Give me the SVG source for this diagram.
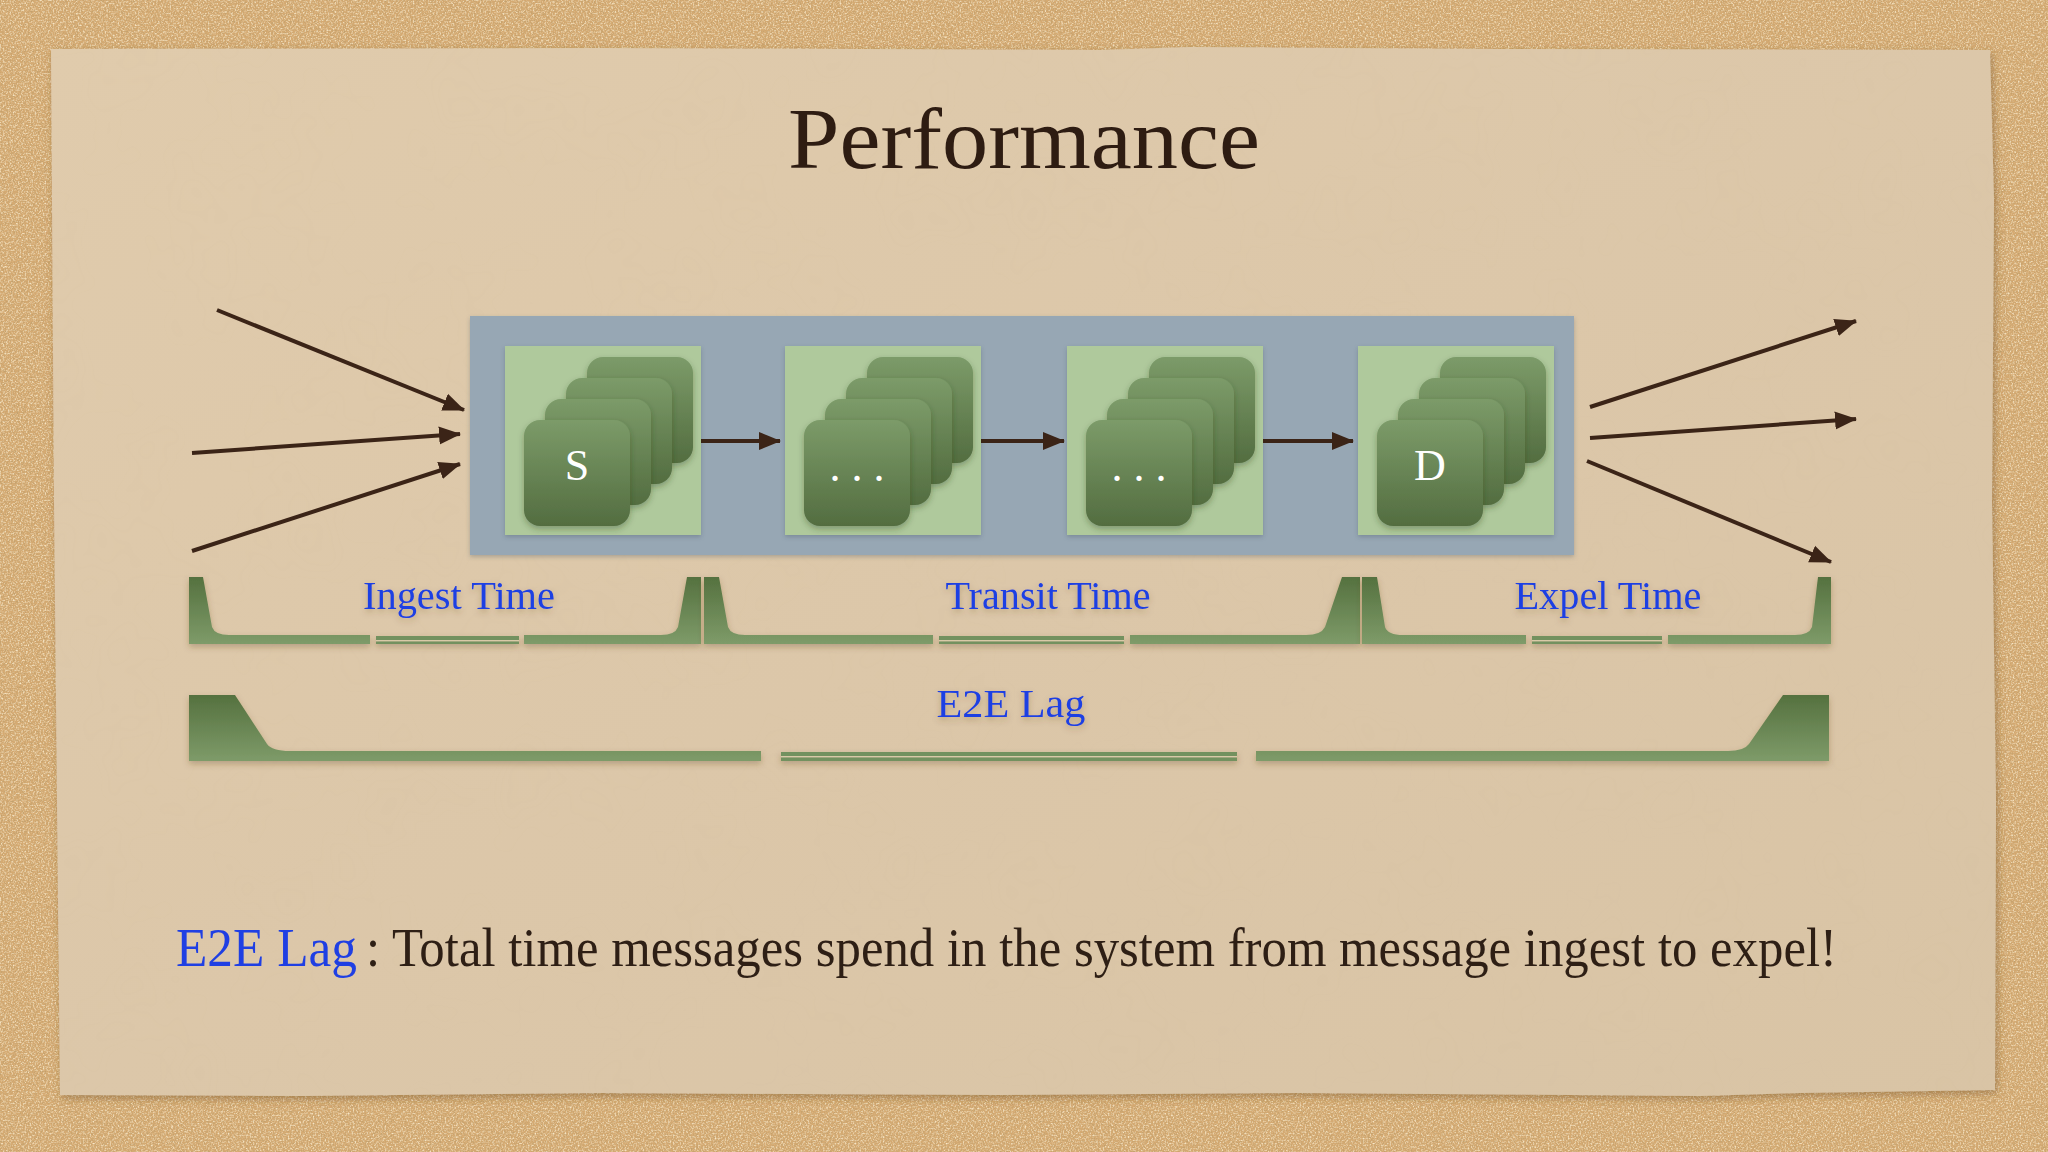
<svg xmlns="http://www.w3.org/2000/svg" width="2048" height="1152" viewBox="0 0 2048 1152">
<style>
.title{font-family:"Liberation Serif","DejaVu Serif",serif;font-size:86px;fill:#2e1c12}
.lbl{font-family:"Liberation Serif","DejaVu Serif",serif;font-size:40px;fill:#1f3fe3}
.body{font-family:"Liberation Serif","DejaVu Serif",serif;font-size:54px;fill:#2e1f15}
.blue{fill:#1f3fe3}
.card{fill:url(#cardG);filter:url(#cardSh)}
.tile{fill:#afc99c;filter:url(#tileSh)}
.glyph{font-family:"Liberation Serif","DejaVu Serif",serif;font-size:44px;fill:#ffffff;text-anchor:middle}
.br{fill:url(#brG)}
.brT{fill:#73915f}
.conn{stroke:#3b2417;stroke-width:4;fill:none;marker-end:url(#ah)}
</style>
<defs>
<linearGradient id="cardG" x1="0" y1="0" x2="0" y2="1">
<stop offset="0" stop-color="#7c9b69"/>
<stop offset="1" stop-color="#536d40"/>
</linearGradient>
<linearGradient id="brG" x1="0" y1="0" x2="0" y2="1">
<stop offset="0" stop-color="#55713f"/>
<stop offset="1" stop-color="#7e9b69"/>
</linearGradient>
<linearGradient id="paperG" x1="0" y1="0" x2="1" y2="1">
<stop offset="0" stop-color="#e0cbac"/>
<stop offset="0.5" stop-color="#dcc7a9"/>
<stop offset="1" stop-color="#d9c4a5"/>
</linearGradient>
<filter id="cardSh" x="-20%" y="-20%" width="140%" height="150%">
<feDropShadow dx="0" dy="3" stdDeviation="3" flood-color="#2b3a20" flood-opacity="0.35"/>
</filter>
<filter id="tileSh" x="-10%" y="-10%" width="120%" height="125%">
<feDropShadow dx="0" dy="2" stdDeviation="2" flood-color="#3a4a5a" flood-opacity="0.3"/>
</filter>
<filter id="brSh" x="-5%" y="-20%" width="110%" height="150%">
<feDropShadow dx="0" dy="3" stdDeviation="3" flood-color="#5a4020" flood-opacity="0.3"/>
</filter>
<filter id="paperSh" x="-5%" y="-5%" width="110%" height="110%">
<feDropShadow dx="2" dy="3" stdDeviation="4" flood-color="#6a4a20" flood-opacity="0.45"/>
</filter>
<filter id="cork" x="0" y="0" width="100%" height="100%">
<feTurbulence type="fractalNoise" baseFrequency="0.7" numOctaves="2" seed="3" result="n"/>
<feColorMatrix in="n" type="matrix" values="0 0 0 0 0.5  0 0 0 0 0.34  0 0 0 0 0.15  0 0 0 2.2 -1.0"/>
</filter>
<filter id="corkL" x="0" y="0" width="100%" height="100%">
<feTurbulence type="fractalNoise" baseFrequency="0.6" numOctaves="2" seed="11" result="n"/>
<feColorMatrix in="n" type="matrix" values="0 0 0 0 0.96  0 0 0 0 0.84  0 0 0 0 0.62  0 0 0 2.2 -1.0"/>
</filter>
<filter id="paperTex" x="0" y="0" width="100%" height="100%">
<feTurbulence type="fractalNoise" baseFrequency="0.012" numOctaves="3" seed="7" result="n"/>
<feColorMatrix in="n" type="matrix" values="0 0 0 0 0.6  0 0 0 0 0.48  0 0 0 0 0.3  0 0 0 0.5 -0.2"/>
</filter>
<marker id="ah" markerWidth="24" markerHeight="20" refX="21" refY="10" orient="auto" markerUnits="userSpaceOnUse">
<path d="M0,1 L22,10 L0,19 Z" fill="#3b2417"/>
</marker>
</defs>

<g id="background">
<rect x="0" y="0" width="2048" height="1152" fill="#d5aa72"/>
<rect x="0" y="0" width="2048" height="1152" filter="url(#cork)"/>
<rect x="0" y="0" width="2048" height="1152" filter="url(#corkL)"/>
<path id="paper" d="M51,49 L600,48 L1100,50 L1190,47 L1500,49 L1990,50 L1994,200 L1992,500 L1996,800 L1995,1090 L1800,1093 L1700,1096 L1300,1093 L1000,1095 L600,1093 L300,1096 L60,1095 L57,800 L54,500 L52,200 Z" fill="url(#paperG)" filter="url(#paperSh)"/>
<path d="M51,49 L600,48 L1100,50 L1190,47 L1500,49 L1990,50 L1994,200 L1992,500 L1996,800 L1995,1090 L1800,1093 L1700,1096 L1300,1093 L1000,1095 L600,1093 L300,1096 L60,1095 L57,800 L54,500 L52,200 Z" fill="#000" opacity="0.08" filter="url(#paperTex)"/>
</g>

<g id="title">
<text class="title" x="788" y="168" textLength="472" lengthAdjust="spacingAndGlyphs">Performance</text>
</g>

<g id="system">
<rect x="470" y="316" width="1104" height="239" fill="#97a7b4" filter="url(#tileSh)"/>
</g>

<g id="node-s">
<rect class="tile" x="505" y="346" width="196" height="189"/>
<rect class="card" x="587" y="357" width="106" height="106" rx="16"/>
<rect class="card" x="566" y="378" width="106" height="106" rx="16"/>
<rect class="card" x="545" y="399" width="106" height="106" rx="16"/>
<rect class="card" x="524" y="420" width="106" height="106" rx="16"/>
<text class="glyph" x="577" y="480">S</text>
</g>

<g id="node-2">
<rect class="tile" x="785" y="346" width="196" height="189"/>
<rect class="card" x="867" y="357" width="106" height="106" rx="16"/>
<rect class="card" x="846" y="378" width="106" height="106" rx="16"/>
<rect class="card" x="825" y="399" width="106" height="106" rx="16"/>
<rect class="card" x="804" y="420" width="106" height="106" rx="16"/>
<text class="glyph" x="857" y="481" font-size="36">. . .</text>
</g>

<g id="node-3">
<rect class="tile" x="1067" y="346" width="196" height="189"/>
<rect class="card" x="1149" y="357" width="106" height="106" rx="16"/>
<rect class="card" x="1128" y="378" width="106" height="106" rx="16"/>
<rect class="card" x="1107" y="399" width="106" height="106" rx="16"/>
<rect class="card" x="1086" y="420" width="106" height="106" rx="16"/>
<text class="glyph" x="1139" y="481" font-size="36">. . .</text>
</g>

<g id="node-d">
<rect class="tile" x="1358" y="346" width="196" height="189"/>
<rect class="card" x="1440" y="357" width="106" height="106" rx="16"/>
<rect class="card" x="1419" y="378" width="106" height="106" rx="16"/>
<rect class="card" x="1398" y="399" width="106" height="106" rx="16"/>
<rect class="card" x="1377" y="420" width="106" height="106" rx="16"/>
<text class="glyph" x="1430" y="480">D</text>
</g>

<g id="connectors">
<line class="conn" x1="217" y1="310" x2="464" y2="410"/>
<line class="conn" x1="192" y1="453" x2="460" y2="434"/>
<line class="conn" x1="192" y1="551" x2="460" y2="464"/>
<line class="conn" x1="701" y1="441" x2="780" y2="441"/>
<line class="conn" x1="981" y1="441" x2="1064" y2="441"/>
<line class="conn" x1="1263" y1="441" x2="1353" y2="441"/>
<line class="conn" x1="1590" y1="407" x2="1856" y2="321"/>
<line class="conn" x1="1590" y1="438" x2="1856" y2="419"/>
<line class="conn" x1="1587" y1="461" x2="1831" y2="562"/>
</g>

<g id="bracket-ingest" filter="url(#brSh)">
<path class="br" d="M189,644 V577 H203 L212,627 Q215,635 229,635 H370 V644 Z"/>
<rect class="brT" x="376" y="636" width="143" height="4"/>
<rect x="376" y="640" width="143" height="1.5" fill="#d9caa8"/>
<rect class="brT" x="376" y="641.5" width="143" height="2.5"/>
<path class="br" d="M524,635 H661 Q675,635 678,627 L687,577 H701 V644 H524 Z"/>
<text class="lbl" x="459" y="609" text-anchor="middle" textLength="192" lengthAdjust="spacingAndGlyphs">Ingest Time</text>
</g>

<g id="bracket-transit" filter="url(#brSh)">
<path class="br" d="M704,644 V577 H719 L728,627 Q731,635 745,635 H933 V644 Z"/>
<rect class="brT" x="939" y="636" width="185" height="4"/>
<rect x="939" y="640" width="185" height="1.5" fill="#d9caa8"/>
<rect class="brT" x="939" y="641.5" width="185" height="2.5"/>
<path class="br" d="M1130,635 H1306 Q1321,635 1325,627 L1342,577 H1360 V644 H1130 Z"/>
<text class="lbl" x="1048" y="609" text-anchor="middle" textLength="205" lengthAdjust="spacingAndGlyphs">Transit Time</text>
</g>

<g id="bracket-expel" filter="url(#brSh)">
<path class="br" d="M1362,644 V577 H1377 L1385,627 Q1388,635 1403,635 H1526 V644 Z"/>
<rect class="brT" x="1532" y="636" width="130" height="4"/>
<rect x="1532" y="640" width="130" height="1.5" fill="#d9caa8"/>
<rect class="brT" x="1532" y="641.5" width="130" height="2.5"/>
<path class="br" d="M1668,635 H1795 Q1809,635 1812,627 L1818,577 H1831 V644 H1668 Z"/>
<text class="lbl" x="1608" y="609" text-anchor="middle" textLength="187" lengthAdjust="spacingAndGlyphs">Expel Time</text>
</g>

<g id="bracket-e2e" filter="url(#brSh)">
<path class="br" d="M189,761 V695 H235 L267,744 Q272,751 290,751 H761 V761 Z"/>
<rect class="brT" x="781" y="752" width="456" height="4"/>
<rect x="781" y="756" width="456" height="1.5" fill="#d9caa8"/>
<rect class="brT" x="781" y="757.5" width="456" height="3.5"/>
<path class="br" d="M1256,751 H1728 Q1744,751 1749,744 L1783,695 H1829 V761 H1256 Z"/>
<text class="lbl" x="1011" y="717" text-anchor="middle" font-size="42" textLength="149" lengthAdjust="spacingAndGlyphs">E2E Lag</text>
</g>

<g id="definition">
<text class="body blue" x="176" y="966" textLength="181" lengthAdjust="spacingAndGlyphs">E2E Lag</text>
<text class="body" x="366" y="966" textLength="1471" lengthAdjust="spacingAndGlyphs">: Total time messages spend in the system from message ingest to expel!</text>
</g>
</svg>
